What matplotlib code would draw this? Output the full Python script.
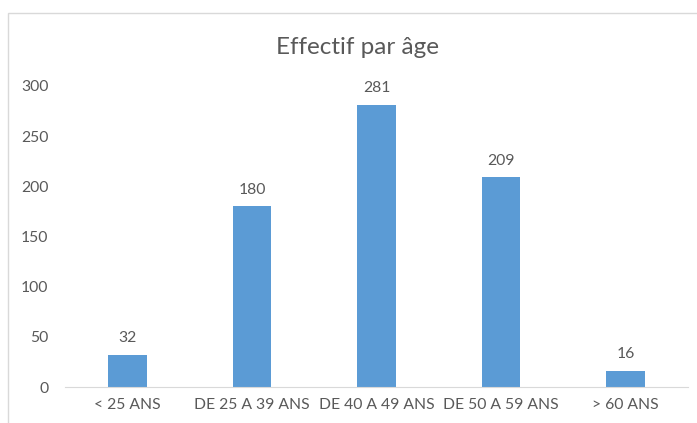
import matplotlib
matplotlib.use("Agg")
import matplotlib.pyplot as plt
from matplotlib.patches import Rectangle

categories = ["< 25 ANS", "DE 25 A 39 ANS", "DE 40 A 49 ANS", "DE 50 A 59 ANS", "> 60 ANS"]
effectif = [32, 180, 281, 209, 16]
y_ticks = [0, 50, 100, 150, 200, 250, 300]
title = "Effectif par âge"

plt.rcParams['font.family'] = ['Lato', 'DejaVu Sans']

W, H = 697, 423
fig = plt.figure(figsize=(W / 100, H / 100), dpi=100)
fig.patch.set_facecolor("white")

# chart-area frame (runs off the right and bottom edges)
fig.patches.append(Rectangle((8 / W, -0.1), 1.2, 1 - 13 / H + 0.1,
                             transform=fig.transFigure, fill=False,
                             edgecolor="#d9d9d9", linewidth=1.0))

ax = fig.add_axes([65 / W, 1 - 387 / H, (688 - 65) / W, (387 - 86) / H])
text_color = "#595959"
bars = ax.bar(range(len(categories)), effectif, width=0.31, color="#5b9bd5")
ax.set_xlim(-0.5, len(categories) - 0.5)
ax.set_ylim(0, 300)
ax.set_yticks(y_ticks)
ax.set_xticks(range(len(categories)))
ax.set_xticklabels(categories)
for s in ["top", "right", "left"]:
    ax.spines[s].set_visible(False)
ax.spines["bottom"].set_color("#d9d9d9")
ax.tick_params(axis="both", length=0, colors=text_color, labelsize=11.3)
ax.tick_params(axis="y", pad=12)
ax.tick_params(axis="x", pad=8)

for i, v in enumerate(effectif):
    ax.annotate(str(v), (i, v), xytext=(0, 7), textcoords="offset points",
                ha="center", va="bottom", fontsize=11.3, color=text_color)

fig.text(357 / W, 1 - 47 / H, title, ha="center", va="center",
         fontsize=17.5, color=text_color)

fig.savefig("out.png", dpi=100)
